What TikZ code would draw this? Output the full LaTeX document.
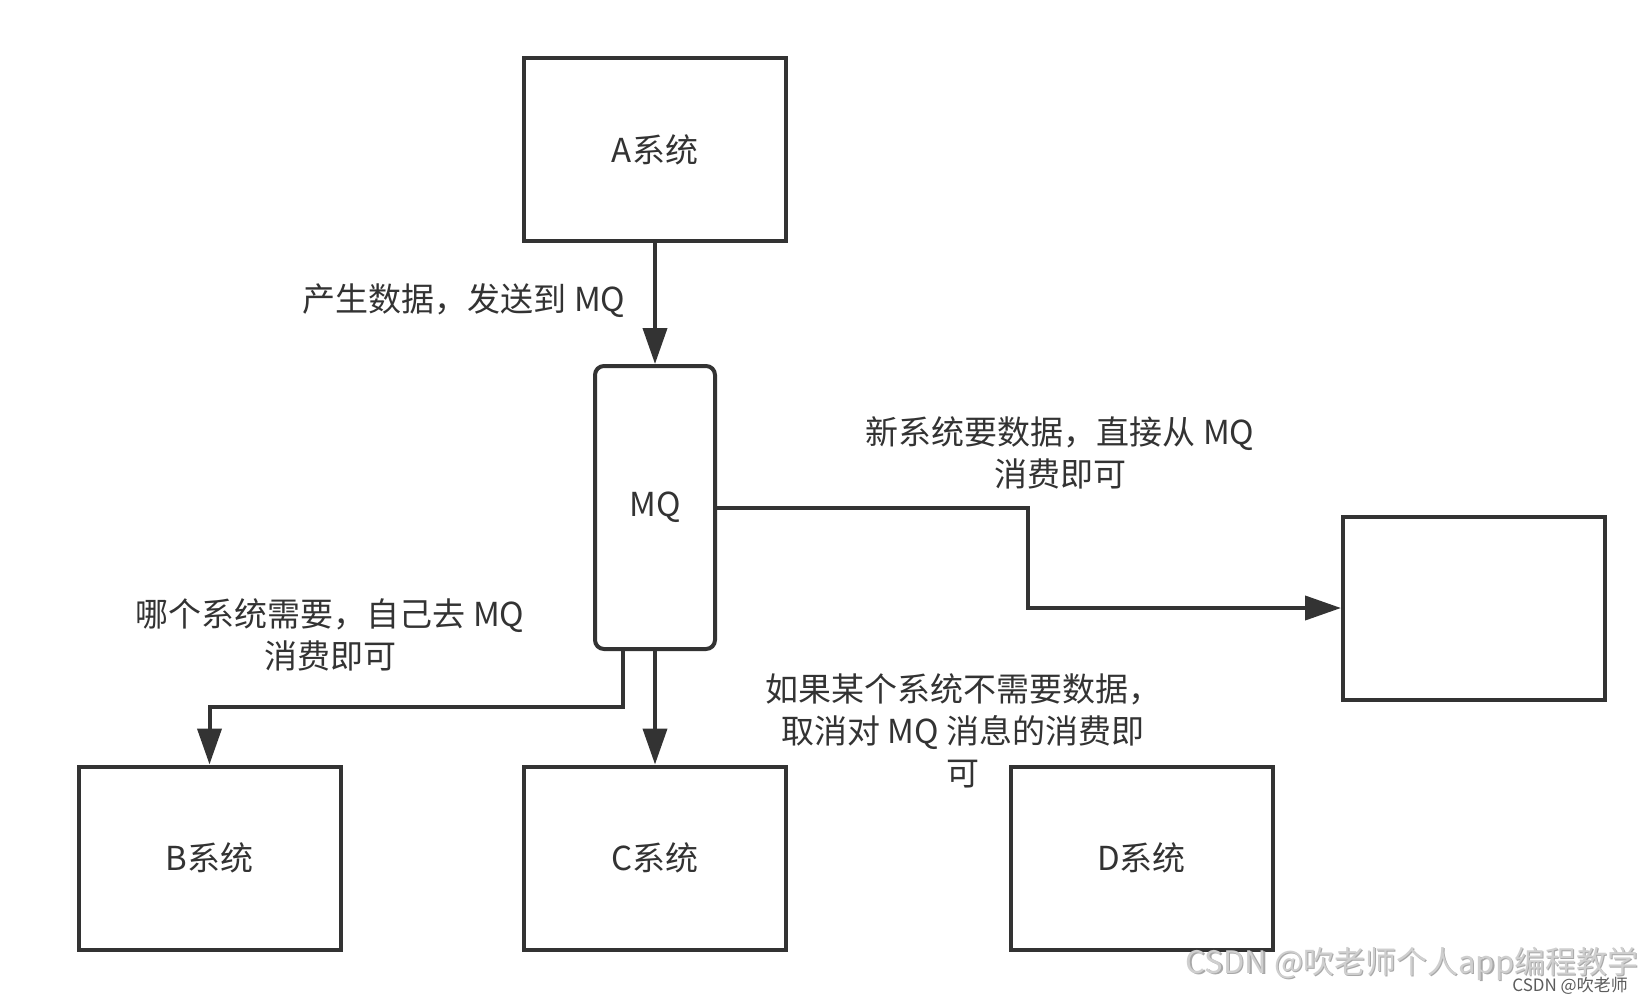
\documentclass[tikz,border=0pt]{standalone}
\usepackage{fontspec}
\setmainfont{Noto Sans CJK SC}
\usetikzlibrary{arrows.meta}
\definecolor{ink}{HTML}{333333}
\definecolor{wm}{HTML}{CFCFCF}
\definecolor{wmshadow}{HTML}{A8A8A8}
\begin{document}
\begin{tikzpicture}[x=1pt,y=-1pt,
  box/.style={draw=ink, line width=4pt, fill=white, minimum width=262pt, minimum height=183pt, inner sep=0pt,
    font=\fontsize{33}{38}\selectfont, text=ink},
  mqbox/.style={draw=ink, line width=4pt, fill=white, rounded corners=9pt, minimum width=120pt, minimum height=283pt,
    inner sep=0pt, font=\fontsize{33}{38}\selectfont, text=ink},
  lbl/.style={align=center, inner sep=0pt, text=ink, font=\fontsize{33}{42}\selectfont},
  conn/.style={draw=ink, line width=4pt, -{Triangle[length=36pt,width=24pt]}},
  wire/.style={draw=ink, line width=4pt}
]
\useasboundingbox (0,0) rectangle (1644,998);
\fill[white] (0,0) rectangle (1644,998);

\node[box] (A) at (655,149.5) {A系统};
\node[mqbox] (MQ) at (655,507.5) {MQ};
\node[box] (N) at (1474,608) {};
\node[box] (B) at (209.5,858) {B系统};
\node[box] (C) at (655,858) {C系统};
\node[box] (D) at (1141.5,858) {D系统};

\coordinate (mqb) at ([xshift=-32pt]MQ.south);
\coordinate (turnR) at (1028,507.5);

\draw[conn] (A.south) -- (MQ.north);
\draw[conn] (MQ.east) -- (turnR) |- (N.west);
\draw[conn] (mqb) |- (209.5,707) -- (B.north);
\draw[conn] (MQ.south) -- (C.north);

\node[lbl] (l1) at (464,301) {产生数据，发送到 MQ};
\node[lbl] (l2) at (1060,453) {新系统要数据，直接从 MQ\\消费即可};
\node[lbl] (l3) at (330,635) {哪个系统需要，自己去 MQ\\消费即可};
\node[lbl] (l4) at (963,731) {如果某个系统不需要数据，\\取消对 MQ 消息的消费即\\可};

\node[anchor=east, inner sep=0pt, text=wmshadow, font=\fontsize{31}{34}\selectfont] (wms) at (1640,965) {CSDN @吹老师个人app编程教学};
\node[anchor=east, inner sep=0pt, text=wm, font=\fontsize{31}{34}\selectfont] (wmt) at (1638.5,963.5) {CSDN @吹老师个人app编程教学};
\node[anchor=east, inner sep=0pt, text=ink!80, font=\fontsize{17}{20}\selectfont] (wm2) at (1628,986) {CSDN @吹老师};
\end{tikzpicture}
\end{document}
